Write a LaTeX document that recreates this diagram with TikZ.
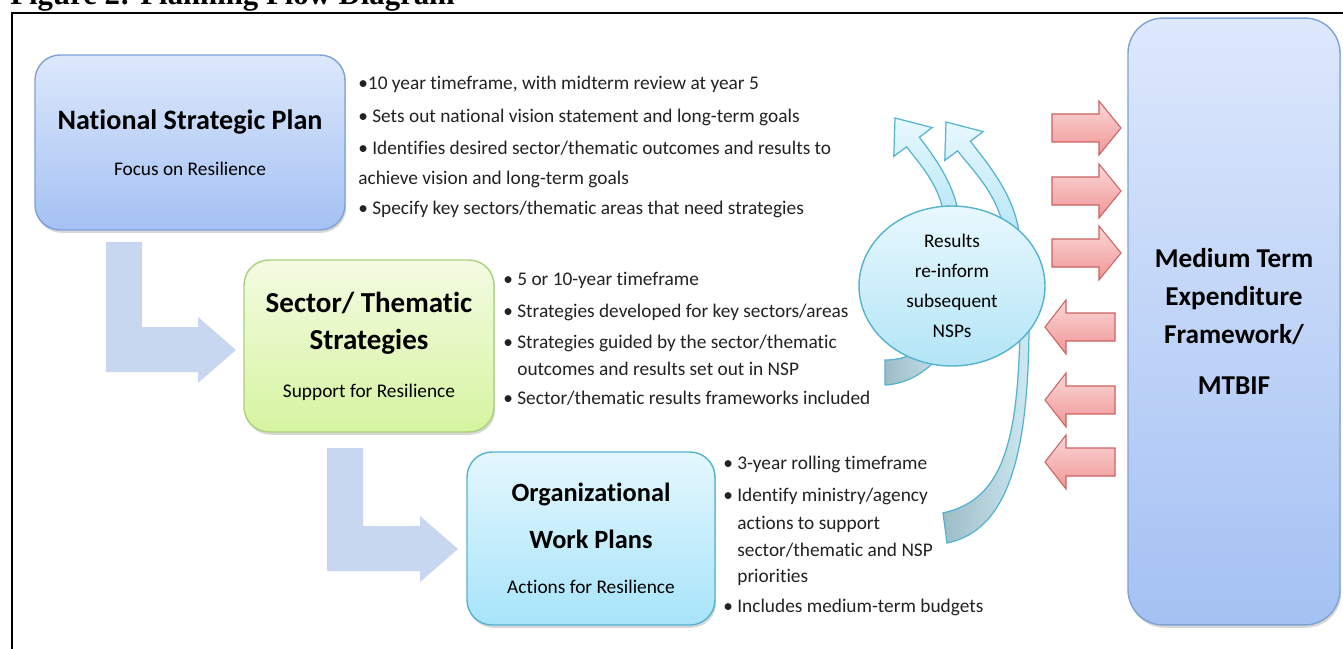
\documentclass[tikz,border=0pt]{standalone}
\usepackage{fontspec}
\setmainfont{Carlito}[Ligatures=NoCommon]
\newfontfamily\captionfont{Liberation Serif}
\usetikzlibrary{shapes.geometric,shadows}

\definecolor{nspTop}{HTML}{DDE8FC}
\definecolor{nspBot}{HTML}{A4C1F3}
\definecolor{nspLine}{HTML}{7FA2D6}
\definecolor{secTop}{HTML}{F4FBE2}
\definecolor{secBot}{HTML}{D6F4A0}
\definecolor{secLine}{HTML}{A9D279}
\definecolor{orgTop}{HTML}{E4F7FD}
\definecolor{orgBot}{HTML}{A7E4FA}
\definecolor{orgLine}{HTML}{55B3D0}
\definecolor{stepBlue}{HTML}{C6D7EF}
\definecolor{redTop}{HTML}{FBD7D7}
\definecolor{redBot}{HTML}{F09696}
\definecolor{redLine}{HTML}{CC6262}
\definecolor{loopTop}{HTML}{E8F8FE}
\definecolor{loopBot}{HTML}{B3E5F6}
\definecolor{loopLine}{HTML}{55B3D0}
\definecolor{tailDark}{HTML}{9EBCC6}
\definecolor{tailLight}{HTML}{CDE9F2}
\definecolor{bodyText}{HTML}{222222}

\newcommand{\bi}{\textbullet\ }
\newcommand{\bh}{\phantom{\textbullet\ }}

\tikzset{
  planbox/.style={draw, line width=0.8pt, rounded corners=0.5cm, align=center, inner sep=0pt,
    drop shadow={shadow xshift=0.7pt, shadow yshift=-1.6pt, opacity=0.3}},
  nspbox/.style={planbox, draw=nspLine, top color=nspTop, bottom color=nspBot},
  secbox/.style={planbox, draw=secLine, top color=secTop, bottom color=secBot},
  orgbox/.style={planbox, draw=orgLine, top color=orgTop, bottom color=orgBot},
  mtefbox/.style={planbox, rounded corners=0.7cm, draw=nspLine, top color=nspTop, bottom color=nspBot},
  resultsoval/.style={ellipse, draw=loopLine, line width=0.8pt, top color=loopTop, bottom color=loopBot,
    align=center, inner sep=0pt, font=\fontsize{11}{17}\selectfont},
  loopshape/.style={draw=loopLine, line width=0.7pt, top color=loopTop, bottom color=loopBot, line join=miter},
  loopTail/.style={draw=loopLine, line width=0.7pt, left color=tailDark, right color=tailLight},
  bluestep/.style={fill=stepBlue, draw=none},
  redarrow/.style={draw=redLine, line width=0.6pt, top color=redTop, bottom color=redBot, line join=miter},
  bullets/.style={anchor=north west, inner sep=0pt, align=left, text=bodyText, font=\fontsize{11}{17}\selectfont},
  subline/.style={font=\fontsize{11}{13}\selectfont},
}

\begin{document}
\begin{tikzpicture}[x=0.02cm, y=-0.02cm]
\clip (0,0) rectangle (1343,649);
\fill[white] (0,0) rectangle (1343,649);

% caption (cut off at the top) and frame
\node[anchor=base west, inner sep=0pt, font=\captionfont\bfseries\fontsize{17.5}{20}\selectfont] (caption) at (10,5) {Figure 2: Planning Flow Diagram};
\draw[line width=1.2pt] (12,700) -- (12,13) -- (1400,13);

% bent arrows between the plans
\fill[bluestep] (106,242) -- (142,242) -- (142,327) -- (198,327) -- (198,317) -- (236,350) -- (198,383) -- (198,372) -- (106,372) -- cycle;
\fill[bluestep] (327,448) -- (363,448) -- (363,526) -- (420,526) -- (420,516) -- (458,549) -- (420,582) -- (420,571) -- (327,571) -- cycle;

% the three plans
\node[nspbox, minimum width=6.2cm, minimum height=3.5cm, font=\fontsize{16}{18}\selectfont\bfseries] (nsp) at (190,142.5)
  {National Strategic Plan\\[8pt] {\fontsize{11}{13}\mdseries\selectfont Focus on Resilience}};
\node[secbox, minimum width=5cm, minimum height=3.44cm, font=\fontsize{16.5}{21.5}\selectfont\bfseries] (sector) at (369,346)
  {Sector/ Thematic\\ Strategies\\[5.5pt] {\fontsize{11}{13}\mdseries\selectfont Support for Resilience}};
\node[orgbox, minimum width=4.96cm, minimum height=3.46cm, font=\fontsize{15}{26.5}\selectfont\bfseries] (org) at (591,538.5)
  {Organizational\\ Work Plans\\[-1pt] {\fontsize{11}{13}\mdseries\selectfont Actions for Resilience}};

% bullet notes
\node[bullets] (nspnotes) at (358,76)
  {\textbullet10 year timeframe, with midterm review at year 5\\[1.5pt]
   \bi Sets out national vision statement and long-term goals\\[1.5pt]
   \bi Identifies desired sector/thematic outcomes and results to\\
   achieve vision and long-term goals\\
   \bi Specify key sectors/thematic areas that need strategies};
\node[bullets] (secnotes) at (503,272)
  {\bi 5 or 10-year timeframe\\[1pt]
   \bi Strategies developed for key sectors/areas\\[0.5pt]
   \bi Strategies guided by the sector/thematic\\[-1.2pt]
   \bh outcomes and results set out in NSP\\[-0.5pt]
   \bi Sector/thematic results frameworks included};
\node[bullets] (orgnotes) at (723,456)
  {\bi 3-year rolling timeframe\\[1pt]
   \bi Identify ministry/agency\\[-1.2pt]
   \bh actions to support\\[-1.5pt]
   \bh sector/thematic and NSP\\[-2pt]
   \bh priorities\\[0pt]
   \bi Includes medium-term budgets};

% feedback loop behind the oval
\draw[loopTail] (1020,310) .. controls (1020,450) and (1000,500) .. (943,513) -- (947,543) .. controls (1010,530) and (1030,450) .. (1029,310) -- cycle;
\draw[loopTail] (885,360) .. controls (905,360) and (925,352) .. (940,330) -- (952,338) .. controls (935,368) and (910,384) .. (885,385) -- cycle;
\draw[loopshape] (945,230) .. controls (945,190) and (921.6,166.8) .. (906.6,146.8) -- (893.8,156.4) -- (895,118) -- (932.2,127.6) -- (919.4,137.2) .. controls (934.4,157.2) and (960,190) .. (960,230) -- cycle;
\draw[loopshape] (1005,245) .. controls (1005,200) and (972.6,170.8) .. (957.6,150.8) -- (944.8,160.4) -- (946,122) -- (983.2,131.6) -- (970.4,141.2) .. controls (985.4,161.2) and (1020,200) .. (1020,245) -- cycle;
\node[resultsoval, minimum width=3.72cm, minimum height=3.2cm] (results) at (952,286) {Results\\re-inform\\subsequent\\NSPs};

% arrows to and from the MTEF
\draw[redarrow] (1052,128) ++(0,-14) -- ++(47,0) -- ++(0,-13) -- ++(22,27) -- ++(-22,27) -- ++(0,-13) -- ++(-47,0) -- cycle;
\draw[redarrow] (1052,191) ++(0,-14) -- ++(47,0) -- ++(0,-13) -- ++(22,27) -- ++(-22,27) -- ++(0,-13) -- ++(-47,0) -- cycle;
\draw[redarrow] (1052,253) ++(0,-14) -- ++(47,0) -- ++(0,-13) -- ++(22,27) -- ++(-22,27) -- ++(0,-13) -- ++(-47,0) -- cycle;
\draw[redarrow] (1115,327) ++(0,-14) -- ++(-49,0) -- ++(0,-13) -- ++(-21,27) -- ++(21,27) -- ++(0,-13) -- ++(49,0) -- cycle;
\draw[redarrow] (1115,400) ++(0,-14) -- ++(-49,0) -- ++(0,-13) -- ++(-21,27) -- ++(21,27) -- ++(0,-13) -- ++(49,0) -- cycle;
\draw[redarrow] (1115,462) ++(0,-14) -- ++(-49,0) -- ++(0,-13) -- ++(-21,27) -- ++(21,27) -- ++(0,-13) -- ++(49,0) -- cycle;

\node[mtefbox, minimum width=4.24cm, minimum height=12.14cm, font=\fontsize{15.5}{21.5}\selectfont\bfseries] (mtef) at (1234,321.5)
  {Medium Term\\ Expenditure\\ Framework/\\[7.5pt] MTBIF};
\end{tikzpicture}
\end{document}
